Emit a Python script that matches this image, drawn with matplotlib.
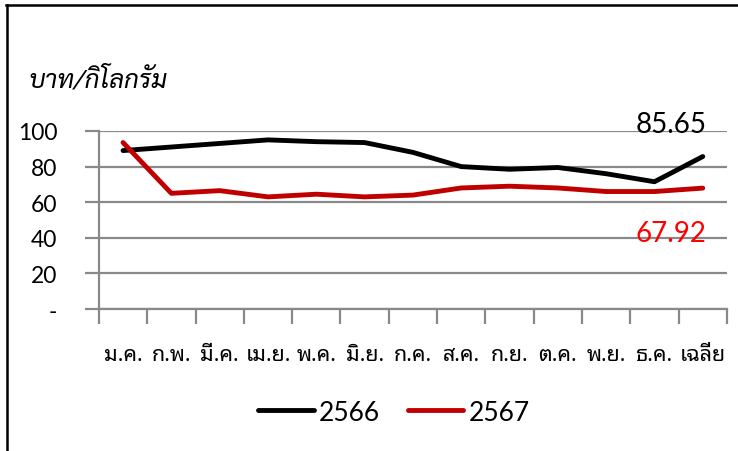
import matplotlib
matplotlib.use('Agg')
import matplotlib.pyplot as plt
from matplotlib.lines import Line2D
import numpy as np

THAI = ['Noto Sans Thai Looped', 'Lato', 'DejaVu Sans']
TITLE = ['Sarabun', 'Noto Sans Thai Looped', 'DejaVu Sans']
NUM = ['Lato', 'DejaVu Sans']

months = ['ม.ค.', 'ก.พ.', 'มี.ค.', 'เม.ย.', 'พ.ค.', 'มิ.ย.', 'ก.ค.',
          'ส.ค.', 'ก.ย.', 'ต.ค.', 'พ.ย.', 'ธ.ค.', 'เฉลี่ย']
y2566 = [89.0, 91.0, 93.0, 95.0, 94.0, 93.5, 88.0, 80.0, 78.5, 79.5, 76.0, 71.5, 85.65]
y2567 = [93.5, 65.0, 66.5, 63.0, 64.5, 63.0, 64.0, 68.0, 69.0, 68.0, 66.0, 66.0, 67.92]
yticks = [0, 20, 40, 60, 80, 100]
ylabels = ['-', '20', '40', '60', '80', '100']

fig = plt.figure(figsize=(7.38, 4.52), dpi=100)
ax = fig.add_axes([0.134, 0.314, 0.851, 0.394])

x = np.arange(len(months))
ax.plot(x, y2566, color='black', lw=3.5, label='2566', solid_capstyle='round', solid_joinstyle='round')
ax.plot(x, y2567, color='#C00000', lw=3.5, label='2567', solid_capstyle='round', solid_joinstyle='round')

ax.set_xlim(-0.5, len(months) - 0.5)
ax.set_ylim(0, 100)
ax.set_yticks(yticks)
ax.set_yticklabels(ylabels, family=NUM, fontsize=16.5)
ax.yaxis.grid(True, color='#898989', lw=1.6)
ax.set_axisbelow(True)

# category labels sit between the boundary ticks
ax.set_xticks(np.arange(-0.5, len(months), 1.0))
ax.set_xticklabels([])
ax.set_xticks(x, minor=True)
ax.set_xticklabels(months, minor=True, family=THAI, fontsize=15.5, fontweight='light')
ax.tick_params(axis='x', which='major', length=11, width=1.6, color='#898989', direction='out')
ax.tick_params(axis='x', which='minor', length=0, pad=25)
ax.tick_params(axis='y', length=10, width=1.6, color='#898989', pad=20)

for s in ['top', 'right']:
    ax.spines[s].set_visible(False)
for s in ['left', 'bottom']:
    ax.spines[s].set_color('#898989')
    ax.spines[s].set_linewidth(1.6)

ax.text(12.07, y2566[-1] + 13.75, '%.2f' % y2566[-1], ha='right', va='baseline',
        family=NUM, fontsize=20, color='black', clip_on=False)
ax.text(12.07, y2567[-1] - 29.7, '%.2f' % y2567[-1], ha='right', va='baseline',
        family=NUM, fontsize=20, color='#FF0000', clip_on=False)

fig.text(0.038, 0.822, 'บาท/กิโลกรัม', family=TITLE, style='italic', fontsize=18.5, va='center')

leg = fig.legend(loc='center', bbox_to_anchor=(0.534, 0.086), ncol=2, frameon=False,
                 prop={'family': NUM, 'size': 19}, handlelength=2.1, handletextpad=0.2,
                 columnspacing=1.05)

fig.add_artist(Line2D([0.0095, 0.0095], [0, 0.987], color='black', lw=1.8))
fig.add_artist(Line2D([0.008, 1.0], [0.987, 0.987], color='black', lw=1.8))

fig.savefig('out.png', dpi=100)
